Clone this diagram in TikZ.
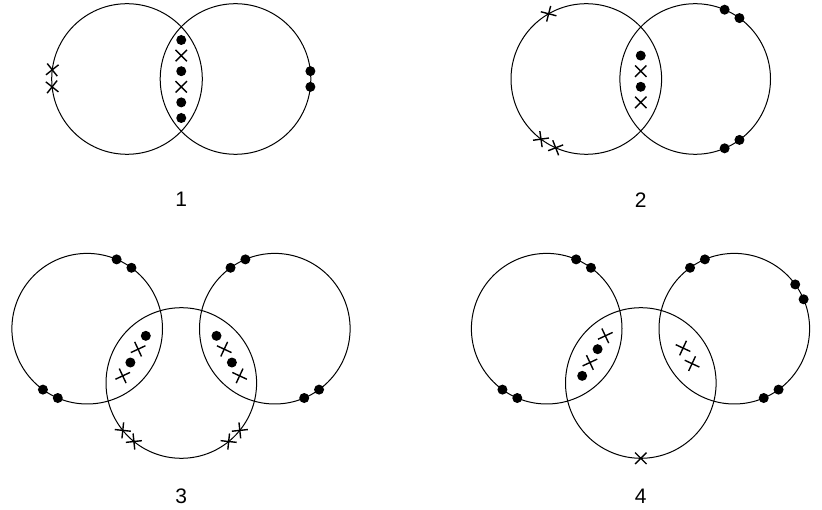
\documentclass[tikz,border=0pt]{standalone}
\usepackage{fontspec}
\setmainfont{Liberation Sans}
\usetikzlibrary{positioning, calc, shapes.misc}

\begin{document}
\begin{tikzpicture}[x=1pt,y=1pt,on grid,
        ring/.style={circle, draw, line width=1pt, minimum size=150.6pt, inner sep=0pt, outer sep=0pt},
        dot/.style={circle, fill, minimum size=10pt, inner sep=0pt},
        cross/.style={cross out, draw, line width=1.4pt, minimum size=10pt, inner sep=0pt},
        tag/.style={font=\fontsize{21}{24}\selectfont}]
        \useasboundingbox (0,0) rectangle (822,509);

        % 1
        \node[ring] (A1) at (127,430) {};
        \node[ring] (B1) [right=108.5pt of A1] {};
        \coordinate (c1) at ($(A1)!0.5!(B1)$);
        \foreach \a in {173.5,186.5} \node[cross, rotate=\a] (A1-\a) at (A1.\a) {};
        \foreach \a in {6.5,-6.5} \node[dot] (B1-\a) at (B1.\a) {};
        \node[dot] (c1a) at ($(c1)+(0,39)$) {};
        \node[cross] (c1b) at ($(c1)+(0,23.4)$) {};
        \node[dot] (c1c) at ($(c1)+(0,7.8)$) {};
        \node[cross] (c1d) at ($(c1)+(0,-7.8)$) {};
        \node[dot] (c1e) at ($(c1)+(0,-23.4)$) {};
        \node[dot] (c1f) at ($(c1)+(0,-39)$) {};
        \node[tag] (n1) [below=110pt of c1] {1};

        % 2
        \node[ring] (A2) at (586.3,430) {};
        \node[ring] (B2) [right=108.9pt of A2] {};
        \coordinate (c2) at ($(A2)!0.5!(B2)$);
        \foreach \a in {120.5,233,246.3} \node[cross, rotate=\a] (A2-\a) at (A2.\a) {};
        \foreach \a in {54,67,293,306} \node[dot] (B2-\a) at (B2.\a) {};
        \node[dot] (c2a) at ($(c2)+(0,23.4)$) {};
        \node[cross] (c2b) at ($(c2)+(0,7.8)$) {};
        \node[dot] (c2c) at ($(c2)+(0,-7.8)$) {};
        \node[cross] (c2d) at ($(c2)+(0,-23.4)$) {};
        \node[tag] (n2) [below=110pt of c2] {2};

        % 3
        \node[ring] (L3) at (87.2,180.3) {};
        \node[ring] (M3) [below right=54.3pt and 94.1pt of L3] {};
        \node[ring] (R3) [right=187.6pt of L3] {};
        \coordinate (c3l) at ($(L3)!0.5!(M3)$);
        \coordinate (c3r) at ($(R3)!0.5!(M3)$);
        \foreach \a in {54,67,234,247} \node[dot] (L3-\a) at (L3.\a) {};
        \foreach \a in {113,126,293,306} \node[dot] (R3-\a) at (R3.\a) {};
        \foreach \a in {219,231,309,321} \node[cross, rotate=\a] (M3-\a) at (M3.\a) {};
        \node[dot] (c3la) at ($(c3l)+(60:23.1)$) {};
        \node[cross, rotate=-20] (c3lb) at ($(c3l)+(60:7.7)$) {};
        \node[dot] (c3lc) at ($(c3l)+(240:7.7)$) {};
        \node[cross, rotate=-20] (c3ld) at ($(c3l)+(240:23.1)$) {};
        \node[dot] (c3ra) at ($(c3r)+(120:23.1)$) {};
        \node[cross, rotate=20] (c3rb) at ($(c3r)+(120:7.7)$) {};
        \node[dot] (c3rc) at ($(c3r)+(300:7.7)$) {};
        \node[cross, rotate=20] (c3rd) at ($(c3r)+(300:23.1)$) {};
        \node[tag] (n3) [below=113pt of M3] {3};

        % 4
        \node[ring] (L4) at (546.7,180.3) {};
        \node[ring] (M4) [below right=54.3pt and 94.1pt of L4] {};
        \node[ring] (R4) [right=187.6pt of L4] {};
        \coordinate (c4l) at ($(L4)!0.5!(M4)$);
        \coordinate (c4r) at ($(R4)!0.5!(M4)$);
        \foreach \a in {54,67,234,247} \node[dot] (L4-\a) at (L4.\a) {};
        \foreach \a in {113,126,23.5,36.5,293,306} \node[dot] (R4-\a) at (R4.\a) {};
        \node[cross, rotate=270] (M4-270) at (M4.270) {};
        \node[cross, rotate=-20] (c4la) at ($(c4l)+(60:23.1)$) {};
        \node[dot] (c4lb) at ($(c4l)+(60:7.7)$) {};
        \node[cross, rotate=-20] (c4lc) at ($(c4l)+(240:7.7)$) {};
        \node[dot] (c4ld) at ($(c4l)+(240:23.1)$) {};
        \node[cross, rotate=20] (c4ra) at ($(c4r)+(120:9)$) {};
        \node[cross, rotate=20] (c4rb) at ($(c4r)+(300:9)$) {};
        \node[tag] (n4) [below=113pt of M4] {4};
    \end{tikzpicture}
\end{document}
